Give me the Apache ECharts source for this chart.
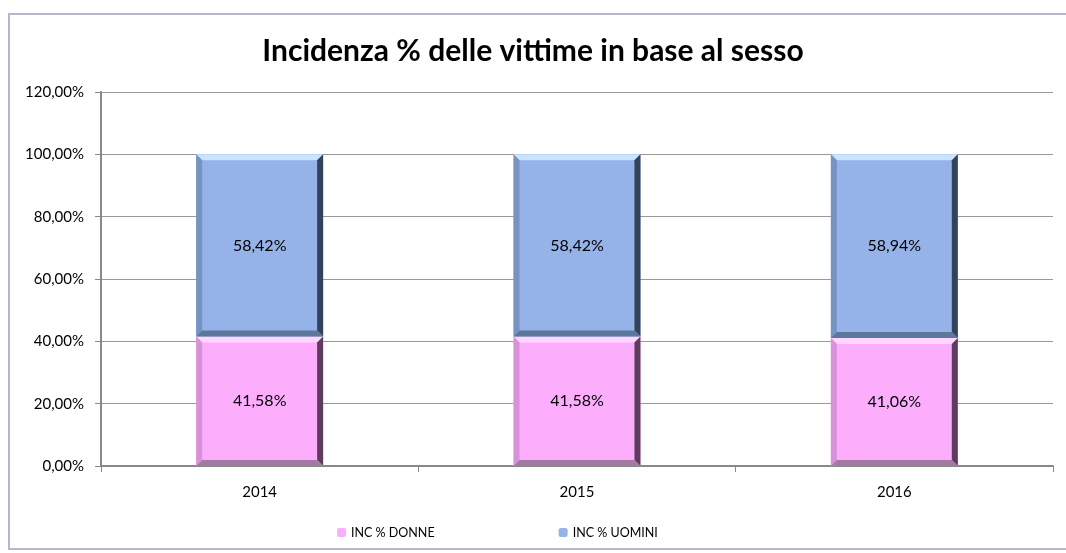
<!DOCTYPE html>
<html lang="it">
<head>
  <meta charset="UTF-8">
  <title>Incidenza % delle vittime</title>
  <script src="https://cdn.jsdelivr.net/npm/echarts@6/dist/echarts.min.js"></script>
  <style>
    html, body { margin: 0; padding: 0; background: #fff; }
  </style>
</head>
<body>
  <div id="chart" style="width: 1066px; height: 553px;"></div>
<script>
  var anni = ['2014', '2015', '2016'];
  var donne = [41.58, 41.58, 41.06];
  var uomini = [58.42, 58.42, 58.94];
  var nomi = ['INC % DONNE', 'INC % UOMINI'];

  var FONT = 'Lato, "Open Sans", sans-serif';

  // palette per le barre "smussate" stile Excel
  var tinte = {
    donne: { main: '#fcaefc', top: '#ffd6ff', left: '#d892d8', right: '#5e3c5e', bottom: '#a47aa4' },
    uomini: { main: '#95b3e8', top: '#c8e4ff', left: '#7793c2', right: '#34435c', bottom: '#5d769c' }
  };

  function fmt(v) {
    return v.toFixed(2).replace('.', ',') + '%';
  }

  function bevelBar(t, base) {
    return function (params, api) {
      var idx = api.value(0);
      var val = api.value(1);
      var b = base[params.dataIndex];
      var p0 = api.coord([idx, b]);
      var p1 = api.coord([idx, b + val]);
      var w = api.size([1, 0])[0] * 0.4;
      var x0 = p0[0] - w / 2, x1 = p0[0] + w / 2;
      var y0 = p1[1], y1 = p0[1];
      var d = 6;
      return {
        type: 'group',
        children: [
          { type: 'rect', shape: { x: x0, y: y0, width: w, height: y1 - y0 }, style: { fill: t.main } },
          { type: 'polygon', shape: { points: [[x0, y0], [x1, y0], [x1 - d, y0 + d], [x0 + d, y0 + d]] }, style: { fill: t.top } },
          { type: 'polygon', shape: { points: [[x0, y0], [x0 + d, y0 + d], [x0 + d, y1 - d], [x0, y1]] }, style: { fill: t.left } },
          { type: 'polygon', shape: { points: [[x1, y0], [x1, y1], [x1 - d, y1 - d], [x1 - d, y0 + d]] }, style: { fill: t.right } },
          { type: 'polygon', shape: { points: [[x0, y1], [x1, y1], [x1 - d, y1 - d], [x0 + d, y1 - d]] }, style: { fill: t.bottom } },
          {
            type: 'text',
            style: {
              x: p0[0], y: (y0 + y1) / 2, text: fmt(val),
              align: 'center', verticalAlign: 'middle',
              fill: '#000', font: '16px ' + FONT
            }
          }
        ]
      };
    };
  }

  var zeri = [0, 0, 0];
  var chart = echarts.init(document.getElementById('chart'));
  chart.setOption({
    animation: false,
    title: {
      text: 'Incidenza % delle vittime in base al sesso',
      left: 'center',
      top: 31,
      textStyle: { fontFamily: FONT, fontSize: 30, fontWeight: 'bold', color: '#000' }
    },
    graphic: [{
      type: 'rect',
      shape: { x: 9, y: 14, width: 1070, height: 535 },
      style: { fill: null, stroke: '#bab4cc', lineWidth: 2 },
      silent: true
    }],
    legend: {
      bottom: 9,
      left: 332,
      itemWidth: 9,
      itemHeight: 9,
      itemGap: 124,
      data: nomi,
      textStyle: { fontFamily: FONT, fontSize: 12.5, color: '#000' }
    },
    grid: { left: 101, right: 13, top: 92, bottom: 87 },
    xAxis: {
      type: 'category',
      data: anni,
      axisLine: { lineStyle: { color: '#888', width: 2 } },
      axisTick: { show: true, length: 6, lineStyle: { color: '#888' } },
      axisLabel: { color: '#000', fontFamily: FONT, fontSize: 15, margin: 19 }
    },
    yAxis: {
      type: 'value',
      min: 0,
      max: 120,
      interval: 20,
      axisLine: { show: true, lineStyle: { color: '#888', width: 2 } },
      axisTick: { show: true, length: 6, lineStyle: { color: '#888' } },
      splitLine: { lineStyle: { color: '#999', width: 1 } },
      axisLabel: { color: '#000', fontFamily: FONT, fontSize: 15, margin: 17, formatter: fmt }
    },
    series: [
      {
        name: nomi[0],
        type: 'custom',
        itemStyle: { color: tinte.donne.main },
        renderItem: bevelBar(tinte.donne, zeri),
        encode: { x: 0, y: 1 },
        data: donne.map(function (v, i) { return [i, v]; })
      },
      {
        name: nomi[1],
        type: 'custom',
        itemStyle: { color: tinte.uomini.main },
        renderItem: bevelBar(tinte.uomini, donne),
        encode: { x: 0, y: 1 },
        data: uomini.map(function (v, i) { return [i, v]; })
      }
    ]
  });
</script>
</body>
</html>
